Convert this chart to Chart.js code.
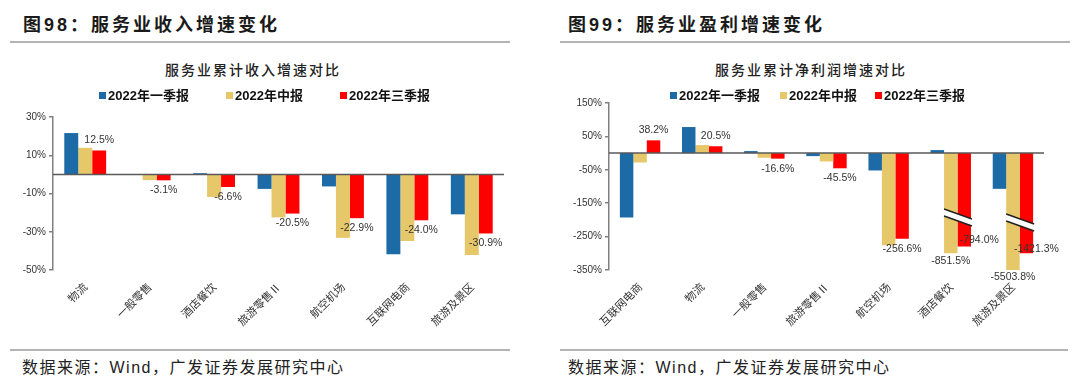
<!DOCTYPE html>
<html>
<head>
<meta charset="utf-8">
<script src="https://cdn.jsdelivr.net/npm/chart.js@4.4.1/dist/chart.umd.min.js"></script>
<style>
  body { margin: 0; width: 1080px; height: 388px; background: #fff; position: relative; overflow: hidden;
         font-family: "Liberation Sans", "Noto Sans CJK SC", sans-serif; }
  .abs { position: absolute; white-space: nowrap; }
  .head { font-size: 18px; font-weight: 700; letter-spacing: 3px; color: #1a1a1a; line-height: 20px; }
  .rule { position: absolute; height: 2px; background: #b4b4b4; }
  .ctitle { font-family: "Noto Sans CJK SC", sans-serif; font-size: 14px; letter-spacing: 2px; color: #222; line-height: 16px; font-weight: 500; }
  .src { font-size: 16px; letter-spacing: 1.5px; color: #222; line-height: 18px; }
  .leg { font-size: 13px; font-weight: 700; color: #111; line-height: 14px; }
  .leg i { display: inline-block; width: 7px; height: 7px; margin-right: 2px; vertical-align: 1px; }
  canvas { position: absolute; }
</style>
</head>
<body>

<div class="abs head" style="left:23px; top:15px;">图98：服务业收入增速变化</div>
<div class="rule" style="left:10px; top:41px; width:500px;"></div>
<div class="abs head" style="left:568px; top:15px;">图99：服务业盈利增速变化</div>
<div class="rule" style="left:560px; top:41px; width:510px;"></div>

<div class="abs ctitle" style="left:165px; top:61px;">服务业累计收入增速对比</div>
<div class="abs ctitle" style="left:715px; top:61px;">服务业累计净利润增速对比</div>

<canvas id="revenueChart" width="540" height="250" style="left:0; top:100px;"></canvas>
<canvas id="profitChart" width="540" height="264" style="left:540px; top:86px;"></canvas>

<div class="rule" style="left:10px; top:349px; width:500px;"></div>
<div class="rule" style="left:560px; top:349px; width:508px;"></div>
<div class="abs src" style="left:22px; top:359px;">数据来源：Wind，广发证券发展研究中心</div>
<div class="abs src" style="left:568px; top:359px;">数据来源：Wind，广发证券发展研究中心</div>

<script>
"use strict";

// series
const seriesNames = ['2022年一季报', '2022年中报', '2022年三季报'];
const seriesColors = ['#1C6AA6', '#E6C86A', '#FF0000'];

// 服务业累计收入增速 (%)
const revenueCats = ['物流', '一般零售', '酒店餐饮', '旅游零售Ⅱ', '航空机场', '互联网电商', '旅游及景区'];
const revenueQ1 = [21.6, -0.3, 0.6, -7.6, -6.3, -41.8, -20.9];
const revenueH1 = [13.9, -3.0, -11.8, -22.5, -33.2, -34.8, -42.1];
const revenueQ3 = [12.5, -3.1, -6.6, -20.5, -22.9, -24.0, -30.9];
const revenueTicks = [-50, -30, -10, 10, 30];

// 服务业累计净利润增速 (%)
const profitCats = ['互联网电商', '物流', '一般零售', '旅游零售Ⅱ', '航空机场', '酒店餐饮', '旅游及景区'];
const profitQ1 = [-193, 78, 6, -9, -52, 9, -107];
const profitH1 = [-28, 24, -14, -25, -276, -851.5, -5503.8];
const profitQ3 = [38.2, 20.5, -16.6, -45.5, -256.6, -794.0, -1421.3];
// bar lengths as drawn: the last two groups are cut (broken bars)
const profitH1Drawn = [-28, 24, -14, -25, -276, -300, -350];
const profitQ3Drawn = [38.2, 20.5, -16.6, -45.5, -256.6, -280, -300];
const profitTicks = [-350, -250, -150, -50, 50, 150];

// legend boxes (html)
function legend(lefts, top) {
  seriesNames.forEach(function (name, i) {
    var d = document.createElement('div');
    d.className = 'abs leg';
    d.style.left = lefts[i] + 'px';
    d.style.top = top + 'px';
    d.innerHTML = '<i style="background:' + seriesColors[i] + '"></i>' + name;
    document.body.appendChild(d);
  });
}
legend([99, 226, 340], 89);
legend([670, 780, 875], 89);

// line at 0%
var zeroLine = {
  id: 'zeroLine',
  afterDatasetsDraw: function (chart) {
    var ctx = chart.ctx, area = chart.chartArea;
    var y0 = chart.scales.y.getPixelForValue(0);
    ctx.save();
    ctx.strokeStyle = '#595959';
    ctx.lineWidth = 1.5;
    ctx.beginPath();
    ctx.moveTo(area.left, y0);
    ctx.lineTo(area.right, y0);
    ctx.stroke();
    ctx.restore();
  }
};

// white slash across cut bars
var axisBreaks = {
  id: 'axisBreaks',
  afterDatasetsDraw: function (chart, args, opts) {
    if (!opts.at) return;
    var ctx = chart.ctx;
    opts.at.forEach(function (b) {
      var a = chart.getDatasetMeta(1).data[b.index];
      var c = chart.getDatasetMeta(2).data[b.index];
      var x0 = a.x - a.width / 2, x1 = c.x + c.width / 2 + 1;
      var yc = chart.scales.y.getPixelForValue(b.value);
      var rise = 10, gap = 7;
      var t0 = yc - rise / 2 - gap / 2, t1 = yc + rise / 2 - gap / 2;
      ctx.save();
      ctx.fillStyle = '#fff';
      ctx.beginPath();
      ctx.moveTo(x0, t0);
      ctx.lineTo(x1, t1);
      ctx.lineTo(x1, t1 + gap);
      ctx.lineTo(x0, t0 + gap);
      ctx.closePath();
      ctx.fill();
      ctx.strokeStyle = '#222';
      ctx.lineWidth = 1.5;
      ctx.beginPath();
      ctx.moveTo(x0, t0); ctx.lineTo(x1, t1);
      ctx.moveTo(x0, t0 + gap); ctx.lineTo(x1, t1 + gap);
      ctx.stroke();
      ctx.restore();
    });
  }
};

// value labels under / over bar ends
var barLabels = {
  id: 'barLabels',
  afterDatasetsDraw: function (chart, args, opts) {
    var ctx = chart.ctx;
    ctx.save();
    ctx.font = '10.5px "Liberation Sans", Arial, sans-serif';
    ctx.fillStyle = '#333';
    ctx.textAlign = 'center';
    ctx.textBaseline = 'middle';
    opts.items.forEach(function (it) {
      var meta = chart.getDatasetMeta(it.ds);
      it.values.forEach(function (v, i) {
        if (v == null) return;
        var bar = meta.data[i];
        var sh = (it.shift && it.shift[i]) || [0, 0];
        var y = bar.y + (v >= 0 ? -10 : 10) + sh[1];
        ctx.fillText(v.toFixed(1) + '%', bar.x + sh[0], y);
      });
    });
    ctx.restore();
  }
};

function makeChart(el, cats, data, ticks, yWidth, extra) {
  return new Chart(el, {
    type: 'bar',
    data: {
      labels: cats,
      datasets: data.map(function (d, i) {
        return {
          label: seriesNames[i],
          data: d,
          backgroundColor: seriesColors[i],
          borderWidth: 0,
          categoryPercentage: 0.65,
          barPercentage: 1
        };
      })
    },
    options: {
      responsive: false,
      animation: false,
      layout: { padding: { top: 17, right: 36, bottom: 5, left: 0 } },
      scales: {
        x: {
          grid: { display: false, drawTicks: false },
          border: { display: false },
          ticks: {
            autoSkip: false,
            maxRotation: 45,
            minRotation: 45,
            padding: 10,
            color: '#333',
            font: { family: '"Noto Sans CJK SC", sans-serif', size: 11 }
          },
          afterFit: function (s) { s.height = 75; }
        },
        y: {
          min: ticks[0],
          max: ticks[ticks.length - 1],
          afterBuildTicks: function (s) { s.ticks = ticks.map(function (v) { return { value: v }; }); },
          grid: { drawOnChartArea: false, drawTicks: true, tickLength: 4, color: '#808080', lineWidth: 1.5 },
          border: { display: true, color: '#808080', width: 1.5 },
          ticks: {
            padding: 3,
            color: '#333',
            font: { family: '"Liberation Sans", Arial, sans-serif', size: 10 },
            callback: function (v) { return v + '%'; }
          },
          afterFit: function (s) { s.width = yWidth; }
        }
      },
      plugins: {
        legend: { display: false },
        tooltip: { enabled: false },
        axisBreaks: { at: extra.breaks },
        barLabels: { items: extra.labels }
      }
    },
    plugins: [zeroLine, axisBreaks, barLabels]
  });
}

// 收入增速
makeChart(document.getElementById('revenueChart'), revenueCats,
  [revenueQ1, revenueH1, revenueQ3], revenueTicks, 53, {
    labels: [{ ds: 2, values: revenueQ3 }]
  });

// 净利润增速
makeChart(document.getElementById('profitChart'), profitCats,
  [profitQ1, profitH1Drawn, profitQ3Drawn], profitTicks, 69, {
    breaks: [{ index: 5, value: -193 }, { index: 6, value: -208 }],
    labels: [
      { ds: 2, values: profitQ3, shift: { 5: [15, -17], 6: [10, -14] } },
      { ds: 1, values: [null, null, null, null, null, profitH1[5], profitH1[6]], shift: { 5: [0, -2], 6: [0, -3] } }
    ]
  });
</script>
</body>
</html>
